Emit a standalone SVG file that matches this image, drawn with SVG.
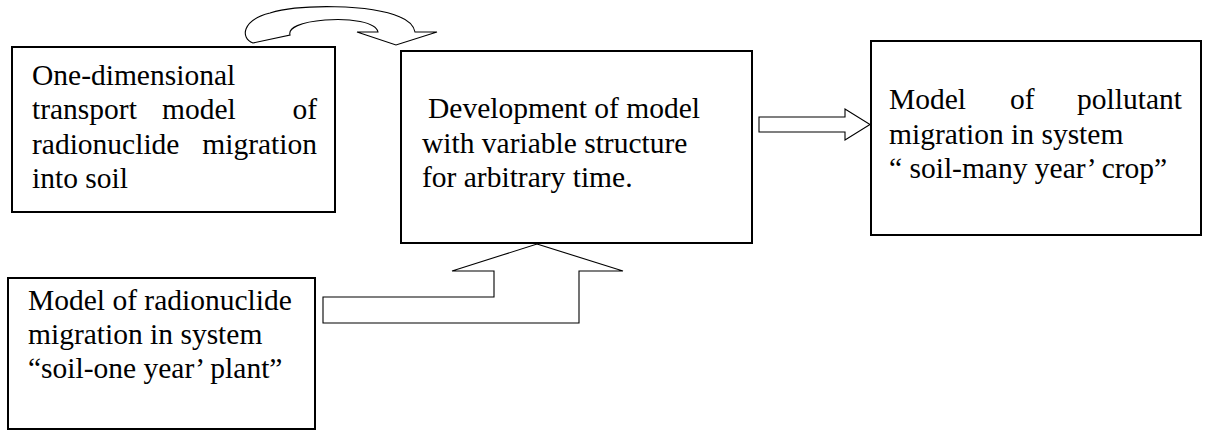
<svg xmlns="http://www.w3.org/2000/svg" width="1225" height="432" viewBox="0 0 1225 432">
<style>
.box{fill:#fff;stroke:#000;stroke-width:2}
.arr{fill:#fff;stroke:#000;stroke-width:1.1;stroke-linejoin:miter}
.t{font-family:'Liberation Serif','Tinos','Times New Roman','Nimbus Roman','Nimbus Roman No9 L','FreeSerif','Noto Serif','DejaVu Serif',serif;font-size:29.5px;fill:#000}
</style>
<rect width="1225" height="432" fill="#fff"/>
<g id="connectors">
<path class="arr" d="M253,43 C240,38 242,20 270,13 C300,4 370,4 400,17 C410,21 414,27 415,32 L437,32 L396,45 L357,32 L378,32 C376,22 350,18 325,20 C300,22 288,28 290,35 Z"/>
<path class="arr" d="M759,117 L845,117 L845,109 L870,124.5 L845,140 L845,132 L759,132 Z"/>
<path class="arr" d="M537,244 L623,271 L579,271 L579,323 L323,323 L323,297 L494,297 L494,271 L452,271 Z"/>
</g>
<g id="node1" class="t">
<rect class="box" x="12" y="47" width="323" height="165"/>
<text x="32" y="85">One-dimensional</text>
<text x="32" y="119">transport</text>
<text x="162" y="119">model</text>
<text x="317" y="119" text-anchor="end">of</text>
<text x="32" y="154">radionuclide</text>
<text x="317" y="154" text-anchor="end">migration</text>
<text x="32" y="188">into soil</text>
</g>
<g id="node2" class="t">
<rect class="box" x="401" y="51" width="351" height="192"/>
<text x="428" y="118">Development of model</text>
<text x="422" y="153">with variable structure</text>
<text x="422" y="187">for arbitrary time.</text>
</g>
<g id="node3" class="t">
<rect class="box" x="871" y="41" width="330" height="194"/>
<text x="889" y="109">Model</text>
<text x="1010" y="109">of</text>
<text x="1182" y="109" text-anchor="end">pollutant</text>
<text x="889" y="144">migration in system</text>
<text x="889" y="178">“ soil-many year’ crop”</text>
</g>
<g id="node4" class="t">
<rect class="box" x="8" y="278" width="307" height="151"/>
<text x="28" y="310">Model of radionuclide</text>
<text x="28" y="344">migration in system</text>
<text x="28" y="378">“soil-one year’ plant”</text>
</g>
</svg>
